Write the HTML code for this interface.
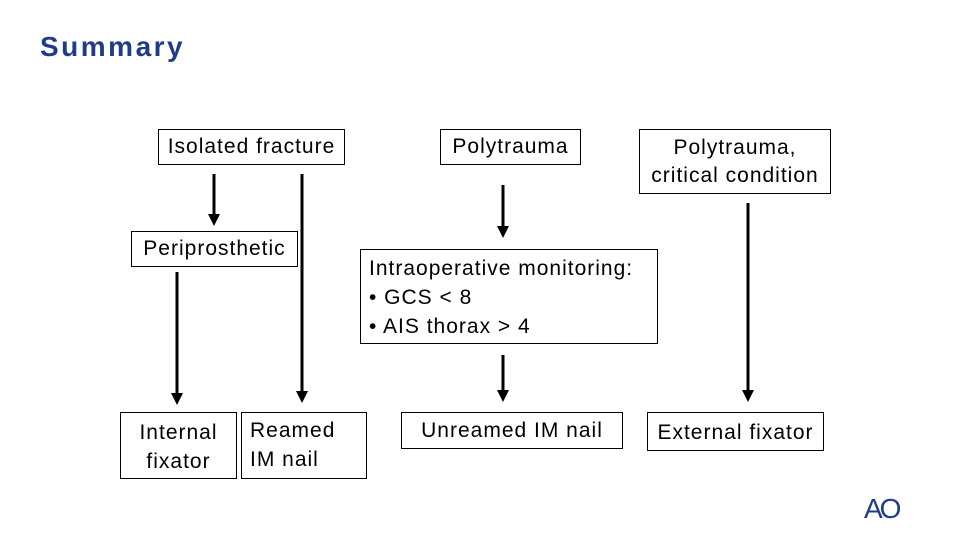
<!DOCTYPE html>
<html><head><style>
body{margin:0;width:960px;height:540px;background:#fff;position:relative;overflow:hidden;font-family:"Liberation Sans",Arial,sans-serif;}
.b{position:absolute;border:1px solid #000;box-sizing:border-box;font-size:21px;letter-spacing:1px;color:#000;line-height:29px;white-space:nowrap;}
.c{text-align:center;}
h1{position:absolute;left:40px;top:31px;margin:0;font-size:28px;letter-spacing:2.5px;color:#1f3d87;font-weight:bold;}
</style></head><body>
<h1>Summary</h1>
<div class="b c" style="left:158px;top:129px;width:187px;height:36px;line-height:34px;">Isolated fracture</div>
<div class="b c" style="left:440px;top:129px;width:141px;height:36px;line-height:34px;">Polytrauma</div>
<div class="b c" style="left:639px;top:129px;width:192px;height:65px;padding-top:4px;line-height:28px;">Polytrauma,<br>critical condition</div>
<div class="b c" style="left:131px;top:231px;width:167px;height:36px;line-height:34px;">Periprosthetic</div>
<div class="b" style="left:360px;top:249px;width:298px;height:95px;padding:4px 0 0 8px;">Intraoperative monitoring:<br>• GCS &lt; 8<br>• AIS thorax &gt; 4</div>
<div class="b c" style="left:120px;top:412px;width:117px;height:67px;padding-top:5px;">Internal<br>fixator</div>
<div class="b" style="left:241px;top:412px;width:126px;height:67px;padding:3px 0 0 8px;">Reamed<br>IM nail</div>
<div class="b c" style="left:401px;top:412px;width:222px;height:37px;line-height:36px;">Unreamed IM nail</div>
<div class="b c" style="left:647px;top:412px;width:177px;height:39px;line-height:40px;">External fixator</div>
<svg style="position:absolute;left:0;top:0" width="960" height="540">
<defs><marker id="a" markerWidth="4" markerHeight="4" refX="2" refY="2" orient="auto" markerUnits="strokeWidth"><path d="M0,0L4,2L0,4z" fill="#000"/></marker></defs>
<g stroke="#000" stroke-width="3" marker-end="url(#a)">
<line x1="214" y1="174" x2="214" y2="220"/>
<line x1="302" y1="174" x2="302" y2="397"/>
<line x1="177" y1="272" x2="177" y2="399"/>
<line x1="503" y1="185" x2="503" y2="232"/>
<line x1="503" y1="355" x2="503" y2="396"/>
<line x1="748" y1="203" x2="748" y2="396"/>
</g>
<text x="864" y="518" font-family="Liberation Sans,sans-serif" font-size="28" fill="#1f3d87" letter-spacing="-3">AO</text>
</svg>
</body></html>
